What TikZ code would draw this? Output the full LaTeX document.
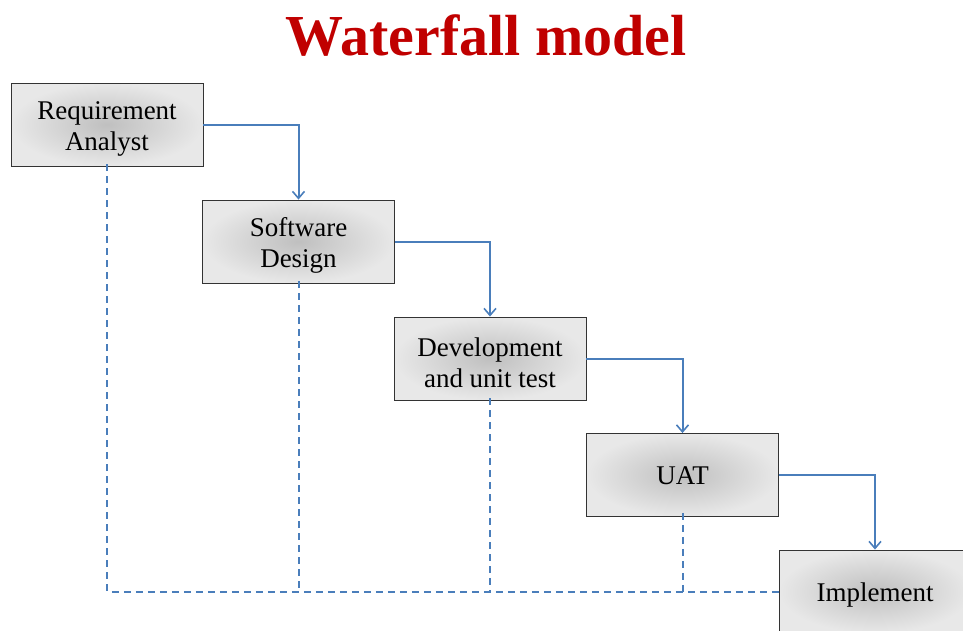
\documentclass[tikz,border=0pt]{standalone}
\usepackage{fontspec}
\setmainfont{Liberation Serif}
\usetikzlibrary{arrows.meta}
\definecolor{titlered}{HTML}{C00000}
\definecolor{linkblue}{HTML}{4A7EBB}
\newcommand{\lowstrut}[1]{\rule{0pt}{#1}}
\tikzset{
  stagebox/.style={draw=black!80, line width=0.9pt, inner color=black!25, outer color=black!9,
    minimum width=192pt, minimum height=83pt, inner sep=0pt, align=center,
    font=\fontsize{27}{31}\selectfont, text=black},
  flowarrow/.style={draw=linkblue, line width=2pt, -{Straight Barb[length=7pt,width=12pt,line width=1.6pt]}},
  backlink/.style={draw=linkblue, line width=2pt, dash pattern=on 7pt off 5pt}
}
\begin{document}
\begin{tikzpicture}[x=1pt,y=-1pt]
\useasboundingbox (0,0) rectangle (963,630);
\node[font=\bfseries\fontsize{58}{60}\selectfont, text=titlered, anchor=base] (title) at (486,55) {Waterfall model};
\node[stagebox] (ra) at (107,124.5) {\lowstrut{27pt}Requirement\\Analyst};
\node[stagebox] (sd) at (298.5,241.5) {\lowstrut{27pt}Software\\Design};
\node[stagebox] (du) at (490,358.5) {\lowstrut{27pt}Development\\and unit test};
\node[stagebox] (uat) at (682.5,475) {\lowstrut{20pt}UAT};
\node[stagebox] (impl) at (875,591.5) {\lowstrut{25pt}Implement};
\draw[flowarrow] (ra.east) -| (sd.north);
\draw[flowarrow] (sd.east) -| (du.north);
\draw[flowarrow] (du.east) -| (uat.north);
\draw[flowarrow] (uat.east) -| (impl.north);
\coordinate (rb) at (ra.south |- impl.west);
\coordinate (sb) at (sd.south |- impl.west);
\coordinate (db) at (du.south |- impl.west);
\coordinate (ub) at (uat.south |- impl.west);
\draw[backlink] ([yshift=2pt]ra.south) -- (rb) -- (impl.west);
\draw[backlink] ([yshift=2pt]sd.south) -- (sb);
\draw[backlink] ([yshift=2pt]du.south) -- (db);
\draw[backlink] ([yshift=4pt]uat.south) -- (ub);
\end{tikzpicture}
\end{document}
